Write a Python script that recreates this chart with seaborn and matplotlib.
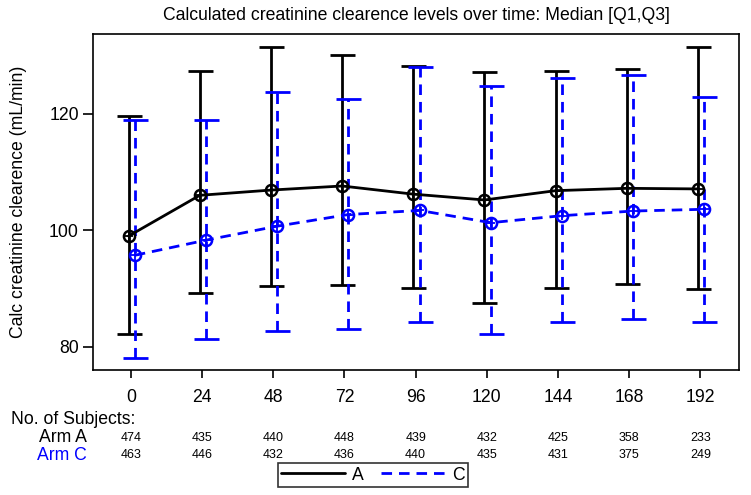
import pandas as pd
import seaborn as sns
import matplotlib.pyplot as plt
import matplotlib.transforms as mtransforms
from matplotlib.lines import Line2D

# 数据
hours = [0, 24, 48, 72, 96, 120, 144, 168, 192]
arms = ["A", "C"]
median_a = [99.0, 106.0, 106.9, 107.6, 106.2, 105.2, 106.8, 107.2, 107.1]
q1_a = [82.1, 89.2, 90.4, 90.6, 90.0, 87.5, 90.0, 90.7, 89.9]
q3_a = [119.6, 127.4, 131.4, 130.1, 128.2, 127.1, 127.3, 127.7, 131.5]
median_c = [95.7, 98.3, 100.7, 102.7, 103.4, 101.3, 102.5, 103.3, 103.6]
q1_c = [78.1, 81.3, 82.7, 83.0, 84.3, 82.1, 84.3, 84.8, 84.3]
q3_c = [118.9, 118.9, 123.7, 122.5, 128.1, 124.8, 126.2, 126.6, 122.9]
n_a = [474, 435, 440, 448, 439, 432, 425, 358, 233]
n_c = [463, 446, 432, 436, 440, 435, 431, 375, 249]

title = "Calculated creatinine clearence levels over time: Median [Q1,Q3]"
ylabel = "Calc creatinine clearence (mL/min)"

sns.set_style("ticks")
plt.rcParams['font.family'] = ['Liberation Sans', 'DejaVu Sans']
plt.rcParams.update({"text.color": "black", "axes.labelcolor": "black",
                     "xtick.color": "black", "ytick.color": "black",
                     "axes.edgecolor": "black"})

colors = {"A": "black", "C": "#0000ff"}
dodge = {"A": -0.8, "C": 1.3}
fs = 12.7

rows = []
for arm, med, q1, q3 in [("A", median_a, q1_a, q3_a), ("C", median_c, q1_c, q3_c)]:
    for h, m, lo, hi in zip(hours, med, q1, q3):
        rows.append({"arm": arm, "hour": h, "x": h + dodge[arm], "median": m, "q1": lo, "q3": hi})
df = pd.DataFrame(rows)

fig = plt.figure(figsize=(7.51, 4.95), dpi=100)
ax = fig.add_axes([0.1234, 0.2525, 0.8606, 0.6788])

# 误差线 (Q1, Q3)
for arm in arms:
    d = df[df.arm == arm]
    eb = ax.errorbar(d["x"], d["median"], yerr=[d["median"] - d["q1"], d["q3"] - d["median"]],
                     fmt="none", ecolor=colors[arm], elinewidth=2, capsize=9, capthick=2, zorder=2)
    for cap in eb[1]:
        cap.set_color(colors[arm])
        cap.set_markeredgecolor(colors[arm])
    if arm == "C":
        eb[2][0].set_linestyle((0, (3.8, 2.5)))

# 中位数折线
sns.lineplot(data=df, x="x", y="median", hue="arm", style="arm", palette=colors,
             dashes={"A": "", "C": (3.8, 2.5)}, markers={"A": "o", "C": "o"},
             markersize=8, markerfacecolor="none", markeredgewidth=1.8,
             linewidth=2, legend=False, ax=ax, zorder=3)
for line in ax.get_lines():
    line.set_markeredgecolor(line.get_color())
sns.scatterplot(data=df, x="x", y="median", hue="arm", palette=colors, marker="+",
                s=45, linewidth=1.3, legend=False, ax=ax, zorder=4)

ax.set_xlim(-12.9, 205)
ax.set_ylim(76, 133.7)
ax.set_xticks(hours)
ax.set_xticklabels([str(h) for h in hours])
ax.set_yticks([80, 100, 120])
ax.tick_params(axis="x", length=6, width=1.2, pad=8, labelsize=fs, colors="black")
ax.tick_params(axis="y", length=7, width=1.2, pad=3, labelsize=fs, colors="black")
for sp in ax.spines.values():
    sp.set_linewidth(1.2)
    sp.set_color("black")
ax.set_xlabel("")
ax.set_ylabel(ylabel, fontsize=fs, color="black")
ax.yaxis.set_label_coords(-0.102, 0.5)

fig.text(0.554, 0.968, title, ha="center", va="center", fontsize=fs)

# 受试者人数
trans = mtransforms.blended_transform_factory(ax.transData, fig.transFigure)
fig.text(11 / 751, 1 - 419 / 495, "No. of Subjects:", ha="left", va="center", fontsize=fs)
fig.text(87 / 751, 1 - 438 / 495, "Arm A", ha="right", va="center", fontsize=fs, color="black")
fig.text(87 / 751, 1 - 455 / 495, "Arm C", ha="right", va="center", fontsize=fs, color="#0000ff")
for h, a, c in zip(hours, n_a, n_c):
    ax.text(h, 1 - 438 / 495, str(a), transform=trans, ha="center", va="center", fontsize=9)
    ax.text(h, 1 - 455 / 495, str(c), transform=trans, ha="center", va="center", fontsize=9)

handles = [Line2D([], [], color="black", lw=2),
           Line2D([], [], color="#0000ff", lw=2, dashes=(3.8, 2.5))]
leg = fig.legend(handles, arms, loc="center", bbox_to_anchor=(373 / 751, 1 - 475 / 495),
                 ncol=2, fontsize=fs, frameon=True, fancybox=False, handlelength=3.6,
                 handletextpad=0.4, columnspacing=1.0, borderpad=0.2)
leg.get_frame().set_edgecolor("black")
leg.get_frame().set_linewidth(1.2)

plt.savefig("out.png", dpi=100)
